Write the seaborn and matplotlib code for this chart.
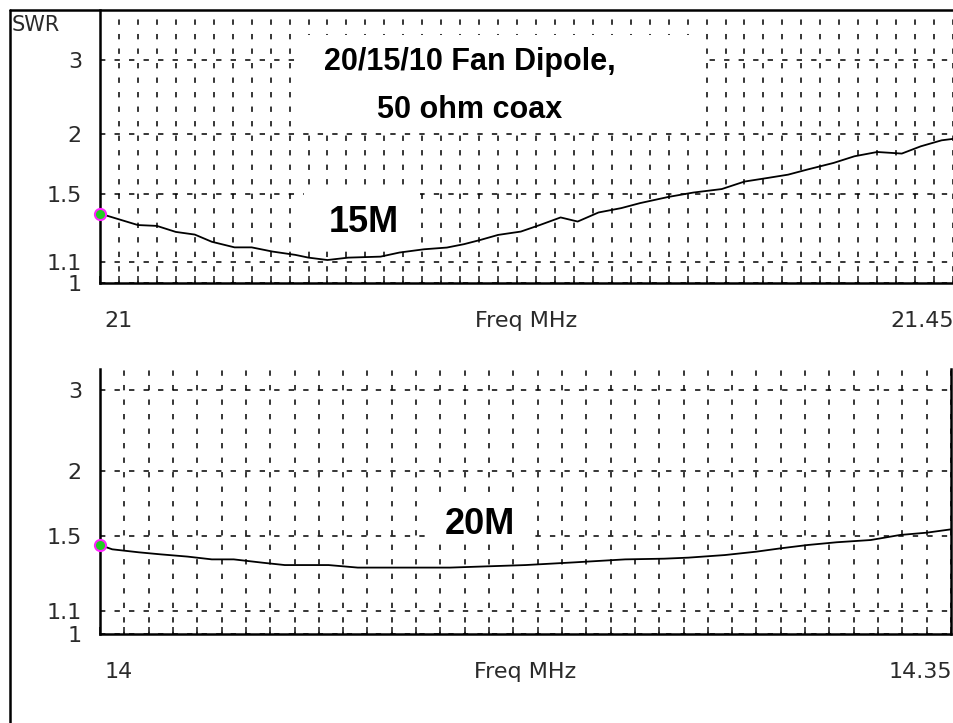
import numpy as np
import matplotlib
matplotlib.use("Agg")
import matplotlib.pyplot as plt
import seaborn as sns
from matplotlib.ticker import MultipleLocator, FixedLocator, NullFormatter
from matplotlib.lines import Line2D
from matplotlib.patches import Rectangle

f15 = [21.000, 21.020, 21.030, 21.040, 21.050, 21.059, 21.071, 21.080, 21.091,
       21.103, 21.110, 21.120, 21.131, 21.148, 21.158, 21.171, 21.183, 21.192,
       21.201, 21.210, 21.222, 21.232, 21.243, 21.252, 21.263, 21.275, 21.285,
       21.300, 21.313, 21.328, 21.340, 21.352, 21.363, 21.373, 21.387, 21.398,
       21.410, 21.423, 21.433, 21.444, 21.450]
swr15 = [1.37, 1.30, 1.295, 1.26, 1.245, 1.205, 1.175, 1.175, 1.153,
         1.136, 1.122, 1.11, 1.122, 1.127, 1.148, 1.165, 1.174, 1.192,
         1.216, 1.243, 1.262, 1.30, 1.346, 1.321, 1.377, 1.405, 1.438,
         1.48, 1.51, 1.535, 1.59, 1.617, 1.643, 1.683, 1.738, 1.795,
         1.833, 1.819, 1.885, 1.942, 1.956]

f20 = [14.000, 14.005, 14.016, 14.025, 14.036, 14.046, 14.055, 14.067, 14.076,
       14.094, 14.106, 14.144, 14.175, 14.195, 14.216, 14.232, 14.242, 14.257,
       14.270, 14.280, 14.291, 14.303, 14.317, 14.329, 14.340, 14.350]
swr20 = [1.446, 1.42, 1.402, 1.39, 1.377, 1.361, 1.361, 1.342, 1.329,
         1.329, 1.315, 1.315, 1.329, 1.344, 1.361, 1.365, 1.371, 1.386,
         1.406, 1.426, 1.446, 1.463, 1.477, 1.509, 1.524, 1.546]

swr_ticks = [1, 1.1, 1.5, 2, 3]
swr_tick_labels = ["1", "1.1", "1.5", "2", "3"]
band_labels = ["15M", "20M"]
title_lines = ["20/15/10 Fan Dipole,", "50 ohm coax"]

W, H = 954, 723
sns.set_style("white")
plt.rcParams["font.family"] = ["DejaVu Sans"]
TXT = "#2a2a2a"


# SWR axis is linear in reflection coefficient
def fwd(s):
    s = np.asarray(s, dtype=float)
    with np.errstate(divide="ignore", invalid="ignore"):
        return (s - 1) / (s + 1)


def inv(r):
    r = np.asarray(r, dtype=float)
    with np.errstate(divide="ignore", invalid="ignore"):
        return (1 + r) / (1 - r)


fig = plt.figure(figsize=(W / 100, H / 100), dpi=100)


def px(x0, y0, x1, y1):
    # pixel box (top-left origin) -> figure fraction rect
    return [x0 / W, 1 - y1 / H, (x1 - x0) / W, (y1 - y0) / H]


def blank(x0, y0, x1, y1):
    r = px(x0, y0, x1, y1)
    fig.add_artist(Rectangle((r[0], r[1]), r[2], r[3],
                             transform=fig.transFigure, facecolor="white",
                             edgecolor="none", zorder=3))


def setup_panel(ax, f, swr, xlo, xhi, ytop, right_spine):
    sns.lineplot(x=f, y=swr, ax=ax, color="black", linewidth=1.3,
                 estimator=None, sort=False, zorder=5)
    ax.plot(f[0], swr[0], "o", ms=8, mfc="#22cc22", mec="#ff22ff",
            mew=1.5, clip_on=False, zorder=6)
    ax.set_yscale("function", functions=(fwd, inv))
    ax.set_xlim(xlo, xhi)
    ax.set_ylim(1, ytop)
    ax.yaxis.set_major_locator(FixedLocator(swr_ticks))
    ax.set_yticklabels(swr_tick_labels)
    ax.yaxis.set_minor_formatter(NullFormatter())
    ax.yaxis.set_minor_locator(FixedLocator([]))
    ax.xaxis.set_major_locator(FixedLocator([]))
    ax.xaxis.set_minor_locator(MultipleLocator(0.01))
    ax.grid(False)
    ax.grid(which="minor", axis="x", color="black", linewidth=1.1,
            linestyle=(2, (3.5, 6)))
    ax.grid(which="major", axis="y", color="black", linewidth=1.1,
            linestyle=(0, (3.5, 6)))
    ax.tick_params(axis="y", which="major", direction="in", length=5,
                   width=1.2, pad=13, labelsize=16, labelcolor=TXT)
    ax.tick_params(axis="x", which="minor", direction="in", length=5,
                   width=1.2, bottom=True)
    for side in ["left", "bottom", "right"]:
        ax.spines[side].set_linewidth(1.8)
        ax.spines[side].set_color("black")
    ax.spines["top"].set_visible(False)
    ax.spines["right"].set_visible(right_spine)
    ax.set_xlabel("")
    ax.set_ylabel("")
    # frequency labels under the plot
    ax.annotate(f"{xlo:g}", xy=(0, 0), xycoords="axes fraction",
                xytext=(3, -27), textcoords="offset points",
                ha="left", va="center", fontsize=16, color=TXT)
    ax.annotate("Freq MHz", xy=(0.5, 0), xycoords="axes fraction",
                xytext=(0, -27), textcoords="offset points",
                ha="center", va="center", fontsize=16, color=TXT)
    ax.annotate(f"{xhi:g}", xy=(1, 0), xycoords="axes fraction",
                xytext=(1, -27), textcoords="offset points",
                ha="right", va="center", fontsize=16, color=TXT)


# ── 15M panel ─────────────────────────────────────────────
ax1 = fig.add_axes(px(100, 10, 953, 283.3))
setup_panel(ax1, f15, swr15, 21, 21.45, inv(0.612), right_spine=False)

# ── 20M panel ─────────────────────────────────────────────
ax2 = fig.add_axes(px(100, 369, 951, 634))
setup_panel(ax2, f20, swr20, 14, 14.35, inv(0.543), right_spine=True)

# white boxes blank the grid behind the annotations
blank(295, 35, 705, 128)
blank(304, 190, 420, 243)
blank(430, 496, 530, 539)

bold = dict(ha="center", va="center", fontweight="bold", color="black",
            family="Liberation Sans", zorder=4)
fig.text(470 / W, 1 - 62 / H, title_lines[0], fontsize=22, **bold)
fig.text(470 / W, 1 - 110 / H, title_lines[1], fontsize=22, **bold)
fig.text(364 / W, 1 - 222 / H, band_labels[0], fontsize=26, **bold)
fig.text(480 / W, 1 - 525 / H, band_labels[1], fontsize=26, **bold)

fig.text(12 / W, 1 - 25 / H, "SWR", ha="left", va="center", fontsize=15,
         color=TXT)

# outer frame of the screen capture
fig.add_artist(Line2D([10 / W, 1], [1 - 10 / H, 1 - 10 / H],
                      transform=fig.transFigure, color="black", linewidth=1.8))
fig.add_artist(Line2D([10 / W, 10 / W], [0, 1 - 10 / H],
                      transform=fig.transFigure, color="black", linewidth=1.8))

fig.savefig("out.png", dpi=100, facecolor="white")
